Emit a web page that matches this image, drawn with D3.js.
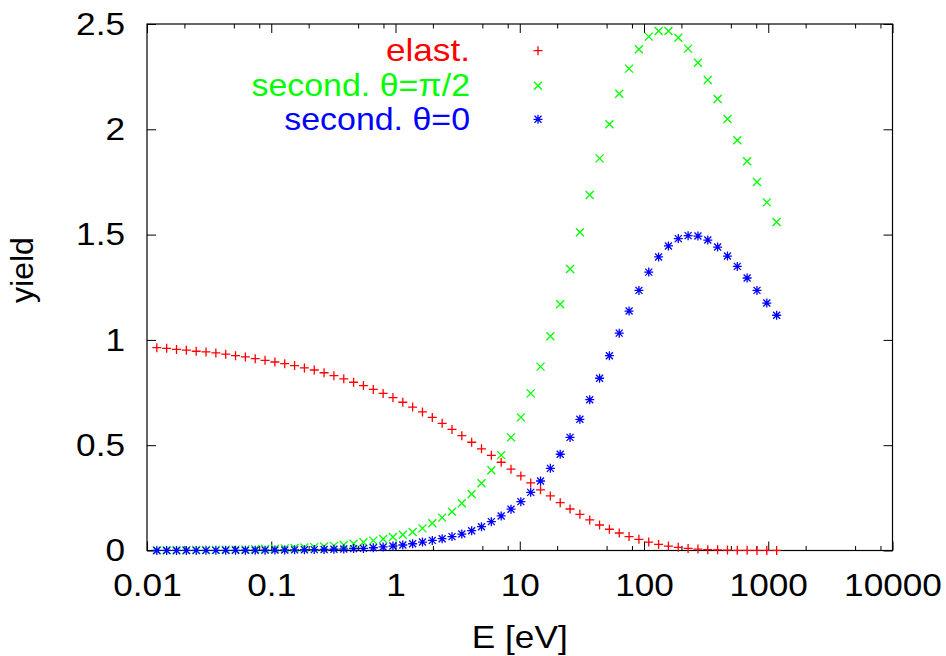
<!DOCTYPE html>
<html><head><meta charset="utf-8">
<script src="https://cdn.jsdelivr.net/npm/d3@7"></script>
<style>body{margin:0;background:#fff}</style>
</head><body><svg id="c" width="946" height="656"></svg>
<script>
const energy = [0.012,0.0144,0.01728,0.020736,0.024883,0.02986,0.035832,0.042998,0.051598,0.061917,
0.074301,0.089161,0.10699,0.12839,0.15407,0.18488,0.22186,0.26623,0.31948,0.38338,
0.46005,0.55206,0.66247,0.79497,0.95396,1.1448,1.3737,1.6484,1.9781,2.3738,
2.8485,3.4182,4.1019,4.9222,5.9067,7.088,8.5056,10.207,12.248,14.698,
17.637,21.165,25.398,30.477,36.573,43.887,52.665,63.198,75.838,91.005,
109.21,131.05,157.26,188.71,226.45,271.74,326.09,391.31,469.57,563.48,
676.18,811.41,973.7,1168.4];
const elastic = [0.963,0.960,0.955,0.951,0.946,0.943,0.938,0.932,0.925,0.919,
0.911,0.903,0.895,0.887,0.878,0.867,0.857,0.844,0.830,0.815,
0.799,0.783,0.765,0.746,0.726,0.704,0.681,0.658,0.632,0.604,
0.575,0.545,0.514,0.483,0.452,0.419,0.386,0.354,0.321,0.288,
0.259,0.227,0.197,0.172,0.145,0.121,0.101,0.083,0.066,0.053,
0.040,0.029,0.021,0.015,0.010,0.007,0.004,0.003,0.002,0.001,
0.001,0.0005,0.0003,0.0002];
const secondaryHalfPi = [0.001,0.0012,0.0014,0.0017,0.002,0.0025,0.003,0.0035,0.004,0.005,
0.006,0.007,0.0085,0.010,0.012,0.014,0.016,0.019,0.022,0.026,
0.032,0.039,0.047,0.055,0.064,0.075,0.088,0.105,0.129,0.156,
0.184,0.224,0.268,0.319,0.381,0.453,0.537,0.632,0.746,0.873,
1.017,1.169,1.337,1.511,1.688,1.862,2.024,2.169,2.288,2.380,
2.440,2.467,2.467,2.435,2.383,2.316,2.234,2.144,2.049,1.948,
1.848,1.750,1.653,1.560];
const secondaryZero = [0.0002,0.0003,0.0003,0.0004,0.0005,0.0006,0.0007,0.0008,0.001,0.0012,
0.0014,0.0017,0.002,0.0025,0.003,0.0036,0.0043,0.005,0.006,0.007,
0.009,0.010,0.013,0.017,0.021,0.026,0.032,0.040,0.048,0.056,
0.066,0.078,0.094,0.113,0.137,0.164,0.196,0.232,0.276,0.330,
0.390,0.457,0.537,0.623,0.716,0.818,0.925,1.032,1.137,1.235,
1.322,1.394,1.446,1.481,1.495,1.493,1.474,1.441,1.398,1.349,
1.294,1.235,1.175,1.117];
const xTickValues = [0.01,0.1,1,10,100,1000,10000];
const xTickLabels = ["0.01","0.1","1","10","100","1000","10000"];
const xMinorTicks = [0.02,0.05,0.08,0.2,0.5,0.8,2,5,8,20,50,80,200,500,800,2000,5000,8000];
const yTickValues = [0,0.5,1,1.5,2,2.5];
const yTickLabels = ["0","0.5","1","1.5","2","2.5"];
const seriesNames = ["elast.","second. \u03b8=\u03c0/2","second. \u03b8=0"];
const seriesColors = ["#ff0000","#00ff00","#0000ff"];
const seriesValues = [elastic, secondaryHalfPi, secondaryZero];
const seriesSymbols = ["plus","cross","star"];

const L = 147, R = 892.5, T = 24, B = 550.5;
const FONT = "'Liberation Sans', Arial, Helvetica, sans-serif";
const FS = 32, SX = 1.1;

const svg = d3.select("#c");
const x = d3.scaleLog().domain([0.01, 10000]).range([L, R]);
const y = d3.scaleLinear().domain([0, 2.5]).range([B, T]);

function styleText(sel){
  sel.attr("font-family", FONT).attr("font-size", FS).attr("fill", "#000");
}

const gb = svg.append("g").attr("transform", `translate(0,${B})`)
  .call(d3.axisBottom(x).tickValues(xTickValues).tickFormat((d,i)=>xTickLabels[i])
    .tickSizeInner(-9).tickSizeOuter(0).tickPadding(23));
gb.selectAll("text").call(styleText).attr("transform", `scale(${SX},1)`);
svg.append("g").attr("transform", `translate(0,${B})`)
  .call(d3.axisBottom(x).tickValues(xMinorTicks).tickFormat("").tickSizeInner(-4.5).tickSizeOuter(0));
svg.append("g").attr("transform", `translate(0,${T})`)
  .call(d3.axisTop(x).tickValues(xTickValues).tickFormat("").tickSizeInner(-9).tickSizeOuter(0));
svg.append("g").attr("transform", `translate(0,${T})`)
  .call(d3.axisTop(x).tickValues(xMinorTicks).tickFormat("").tickSizeInner(-4.5).tickSizeOuter(0));
const gl = svg.append("g").attr("transform", `translate(${L},0)`)
  .call(d3.axisLeft(y).tickValues(yTickValues).tickFormat((d,i)=>yTickLabels[i])
    .tickSizeInner(-9).tickSizeOuter(0).tickPadding(20));
gl.selectAll("text").call(styleText).attr("transform", `scale(${SX},1)`);
svg.append("g").attr("transform", `translate(${R},0)`)
  .call(d3.axisRight(y).tickValues(yTickValues).tickFormat("").tickSizeInner(-9).tickSizeOuter(0));

svg.selectAll(".domain").remove();
svg.selectAll(".tick line").attr("stroke", "#000").attr("stroke-width", 1);

svg.append("rect").attr("x", L).attr("y", T).attr("width", R-L).attr("height", B-T)
  .attr("fill", "none").attr("stroke", "#000").attr("stroke-width", 1.2);

function symPath(kind){
  const p = "M-4.5,0H4.5M0,-4.5V4.5";
  const c = "M-4,-4L4,4M-4,4L4,-4";
  if(kind==="plus") return p;
  if(kind==="cross") return c;
  return p + "M-3.5,-3.5L3.5,3.5M-3.5,3.5L3.5,-3.5";
}

seriesValues.forEach((vals, si) => {
  svg.append("g").selectAll("path").data(energy.map((e,i)=>[e, vals[i]])).join("path")
    .attr("transform", d => `translate(${x(d[0])},${y(d[1])})`)
    .attr("d", symPath(seriesSymbols[si]))
    .attr("fill", "none").attr("stroke", seriesColors[si]).attr("stroke-width", 1.3);
});

const legendRows = [50.7, 85.7, 119.3];
seriesNames.forEach((name, i) => {
  svg.append("text").attr("transform", `translate(470,${legendRows[i]}) scale(${i===0?SX:1.06},1)`)
    .attr("text-anchor", "end").attr("dy", "0.33em").text(name)
    .call(styleText).attr("fill", seriesColors[i]);
  svg.append("path").attr("transform", `translate(538,${legendRows[i]})`)
    .attr("d", symPath(seriesSymbols[i])).attr("fill", "none")
    .attr("stroke", seriesColors[i]).attr("stroke-width", 1.3);
});

svg.append("text").attr("transform", `translate(${(L+R)/2},648) scale(${SX},1)`)
  .attr("text-anchor", "middle").text("E [eV]").call(styleText);
svg.append("text").attr("transform", `translate(33,270) rotate(-90)`)
  .attr("text-anchor", "middle").text("yield").call(styleText);
</script>
</body></html>
